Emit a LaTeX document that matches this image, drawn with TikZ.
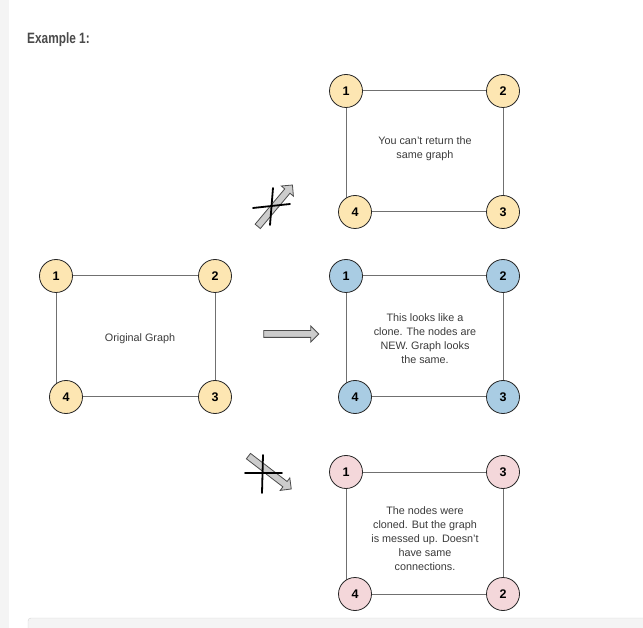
\documentclass[tikz,border=0pt]{standalone}
\usepackage{fontspec}
\setmainfont{Liberation Sans}
\newfontfamily\titlefont[FakeStretch=0.79]{Liberation Sans}
\usetikzlibrary{shapes.arrows,backgrounds}
\definecolor{nodeyellow}{HTML}{FDE6B2}
\definecolor{nodeblue}{HTML}{A9CCE3}
\definecolor{nodepink}{HTML}{F4D7DA}
\definecolor{linkgray}{HTML}{707070}
\definecolor{textgray}{HTML}{3A3A3A}
\definecolor{titlegray}{HTML}{4A4A4A}
\definecolor{pagegray}{HTML}{F4F4F4}
\definecolor{boxline}{HTML}{D4D4D4}

\begin{document}
\begin{tikzpicture}[x=1pt, y=-1pt]
  \tikzset{vertex/.style = {circle, draw=black!85, line width=0.8pt,
      minimum size=33pt, inner sep=0pt,
      font=\bfseries\fontsize{12.5}{12.5}\selectfont},
    yellowv/.style = {vertex, fill=nodeyellow},
    bluev/.style   = {vertex, fill=nodeblue},
    pinkv/.style   = {vertex, fill=nodepink},
    link/.style    = {draw=linkgray, line width=1pt},
    note/.style    = {align=center, text=textgray,
      font=\fontsize{10.8}{14}\selectfont},
    blockarrow/.style = {single arrow, draw=black!70, fill=black!20,
      line width=0.8pt, inner sep=3pt, single arrow head extend=4.5pt,
      single arrow head indent=0pt},
    nope/.style = {line width=1.8pt, line cap=round}}
  \clip (0,0) rectangle (643,628);
  \useasboundingbox (0,0) rectangle (643,628);
  \fill[pagegray] (0,0) rectangle (9,628);
  \draw[boxline, fill=pagegray, rounded corners=3pt] (28,618) rectangle (680,680);

  \node[anchor=base west, inner sep=0pt, text=titlegray,
    font=\titlefont\bfseries\fontsize{15}{15}\selectfont] (title) at (27,44) {Example 1:};

  % original graph
  \node[yellowv] (a1) at (56,276) {1};
  \node[yellowv] (a2) at (215,276) {2};
  \node[yellowv] (a3) at (215,397) {3};
  \node[yellowv] (a4) at (66,397) {4};
  \node[note] (atext) at (140,339) {Original Graph};

  % same graph returned
  \node[yellowv] (b1) at (346,91) {1};
  \node[yellowv] (b2) at (503,91) {2};
  \node[yellowv] (b3) at (503,212) {3};
  \node[yellowv] (b4) at (355,212) {4};
  \node[note] (btext) at (425,149) {You can't return the\\same graph};

  % real clone
  \node[bluev] (c1) at (346,276) {1};
  \node[bluev] (c2) at (503,276) {2};
  \node[bluev] (c3) at (503,397) {3};
  \node[bluev] (c4) at (355,397) {4};
  \node[note] (ctext) at (425,339) {This looks like a\\clone. The nodes are\\NEW. Graph looks\\the same.};

  % wrong connections
  \node[pinkv] (d1) at (346,472) {1};
  \node[pinkv] (d3) at (503,472) {3};
  \node[pinkv] (d2) at (503,594) {2};
  \node[pinkv] (d4) at (355,594) {4};
  \node[note] (dtext) at (425,539) {The nodes were\\cloned. But the graph\\is messed up. Doesn't\\have same\\connections.};

  \begin{scope}[on background layer]
    \draw[link] (a1) -- (a2);
    \draw[link] (a2) -- (a3);
    \draw[link] (a3) -- (a4);
    \draw[link] (a1) -- (a1 |- a4);
    \draw[link] (b1) -- (b2);
    \draw[link] (b2) -- (b3);
    \draw[link] (b3) -- (b4);
    \draw[link] (b1) -- (b1 |- b4);
    \draw[link] (c1) -- (c2);
    \draw[link] (c2) -- (c3);
    \draw[link] (c3) -- (c4);
    \draw[link] (c1) -- (c1 |- c4);
    \draw[link] (d1) -- (d3);
    \draw[link] (d3) -- (d2);
    \draw[link] (d2) -- (d4);
    \draw[link] (d1) -- (d1 |- d4);
  \end{scope}

  % arrows
  \node[blockarrow, minimum height=54pt, rotate=50] (up) at (274,207) {};
  \node[blockarrow, minimum height=55pt] (mid) at (289.5,334) {};
  \node[blockarrow, minimum height=54pt, rotate=-37.5] (down) at (268.5,471.5) {};
  \draw[nope] (253,208) -- (290,204);
  \draw[nope] (273,188) -- (270,225);
  \draw[nope] (245,473) -- (282,473);
  \draw[nope] (263,455) -- (262,493);
\end{tikzpicture}
\end{document}
